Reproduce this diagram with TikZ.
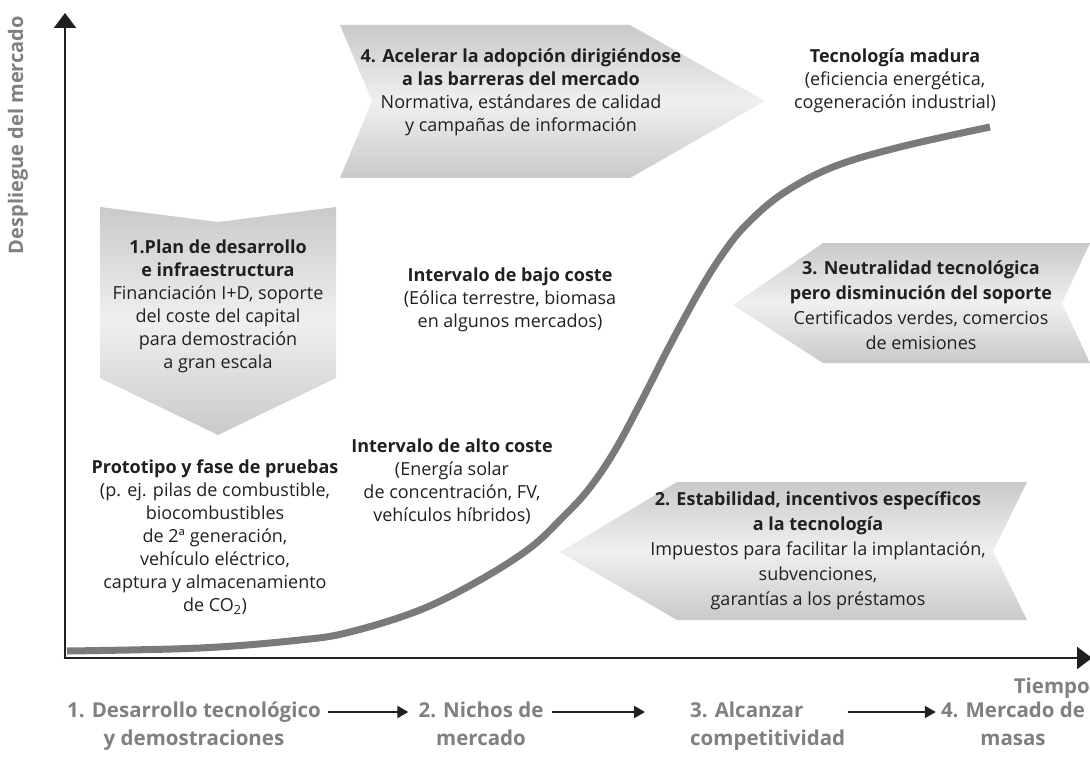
\documentclass[tikz,border=0pt]{standalone}
\usepackage{fontspec}
\setmainfont{Open Sans}
\usetikzlibrary{arrows.meta,positioning}
\definecolor{ink}{HTML}{231F20}
\definecolor{lblgray}{HTML}{808080}
\definecolor{curvegray}{HTML}{7A7A7D}

\begin{document}
\begin{tikzpicture}[
    x=1pt, y=-1pt,
    axis line/.style={line width=2.6pt, draw=ink},
    policy arrow/.style={top color=gray!42, bottom color=gray!42, middle color=gray!12},
    txt/.style={text=ink, align=center, font=\fontsize{18}{23}\selectfont},
    wide txt/.style={txt, font=\fontsize{18}{25}\selectfont},
    stage/.style={text=lblgray, font=\fontsize{20.5}{28}\selectfont\bfseries,
        text height=15pt, text depth=5pt},
    flow/.style={line width=2pt, draw=ink, -{Triangle[width=12pt,length=11pt]}},
    every node/.style={inner sep=0pt}
    ]
    \useasboundingbox (0,0) rectangle (1090,765);
    % Axes
    \coordinate (origin) at (65,658);
    \coordinate (ytop) at (65,13);
    \coordinate (xend) at (1092,658);
    \draw[axis line, -{Triangle[width=22pt,length=15pt]}] (origin) -- (ytop);
    \draw[axis line, -{Triangle[width=22pt,length=15pt]}] ([xshift=-1.3pt]origin) -- (xend);
    \node[rotate=90, text=lblgray, font=\fontsize{20}{23}\selectfont\bfseries] (ylabel) at (18,135) {Despliegue del mercado};
    \node[anchor=east, text=lblgray, font=\fontsize{20.5}{23}\selectfont\bfseries] (time) at (1090,688) {Tiempo};
    % Policy arrows
    \path[policy arrow] (340,25) -- (630,25) -- (765,101) -- (630,178) -- (340,178) -- (372,101) -- cycle;
    \path[policy arrow] (100,207) -- (218,222) -- (336,207) -- (336,378) -- (218,435) -- (100,378) -- cycle;
    \path[policy arrow] (733,305) -- (823,243) -- (1090,243) -- (1062,303) -- (1090,363) -- (823,363) -- cycle;
    \path[policy arrow] (560,552) -- (677,482) -- (1027,482) -- (993,551) -- (1027,620) -- (677,620) -- cycle;
    % S-curve
    \draw[line width=7pt, curvegray] plot[smooth, tension=0.6] coordinates {
        (67,651) (200,648) (300,640) (350,632) (420,610) (480,580) (530,548)
        (562,518) (588,490) (614,452) (642,400) (670,345) (700,290) (722,255)
        (745,226) (782,194) (833,167) (900,147) (990,127)};
    % Texts
    \node[txt] (accel) at (521,92) {\textbf{4. Acelerar la adopción dirigiéndose}\\
        \textbf{a las barreras del mercado}\\ Normativa, estándares de calidad\\
        y campañas de información};
    \node[txt] (plan) at (218,306) {\textbf{1.Plan de desarrollo}\\ \textbf{e infraestructura}\\
        Financiación I+D, soporte\\ del coste del capital\\ para demostración\\ a gran escala};
    \node[txt] (proto) at (215,537) {\textbf{Prototipo y fase de pruebas}\\
        (p. ej. pilas de combustible,\\ biocombustibles\\ de 2ª generación,\\
        vehículo eléctrico,\\ captura y almacenamiento\\ de CO\textsubscript{2})};
    \node[txt] (high) at (452,482) {\textbf{Intervalo de alto coste}\\ (Energía solar\\
        de concentración, FV,\\ vehículos híbridos)};
    \node[txt] (low) at (510,300) {\textbf{Intervalo de bajo coste}\\
        (Eólica terrestre, biomasa\\ en algunos mercados)};
    \node[txt] (mature) at (895,81) {\textbf{Tecnología madura}\\ (eficiencia energética,\\
        cogeneración industrial)};
    \node[wide txt] (neutral) at (921,305) {\textbf{3. Neutralidad tecnológica}\\
        \textbf{pero disminución del soporte}\\ Certificados verdes, comercios\\ de emisiones};
    \node[wide txt] (stable) at (818,551) {\textbf{2. Estabilidad, incentivos específicos}\\
        \textbf{a la tecnología}\\ Impuestos para facilitar la implantación,\\
        subvenciones,\\ garantías a los préstamos};
    % Stages
    \node[stage] (s1) at (194,712) {1. Desarrollo tecnológico};
    \node[stage, below=8pt of s1] (s1b) {y demostraciones};
    \node[stage] (s2) at (481,712) {2. Nichos de};
    \node[stage, below=8pt of s2] (s2b) {mercado};
    \node[stage, anchor=west] (s3) at (690,712) {3. Alcanzar};
    \node[stage, below right=8pt and 0pt of s3.south west] (s3b) {competitividad};
    \node[stage] (s4) at (1013,712) {4. Mercado de};
    \node[stage, below=8pt of s4] (s4b) {masas};
    \draw[flow, shorten <=7pt, shorten >=10pt] (s1) -- (s2);
    \draw[flow, shorten <=8pt, shorten >=45pt] (s2) -- (s3);
    \draw[flow, shorten <=44pt, shorten >=5pt] (s3) -- (s4);
\end{tikzpicture}
\end{document}
